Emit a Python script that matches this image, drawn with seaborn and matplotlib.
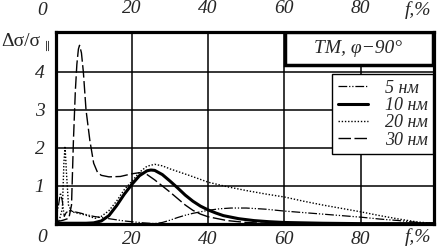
import numpy as np
import pandas as pd
import matplotlib
matplotlib.use("Agg")
import matplotlib.pyplot as plt
from matplotlib.patches import Rectangle
import seaborn as sns

sns.set_style("white")
plt.rcParams['font.family'] = ['Liberation Serif', 'DejaVu Serif']

### values (f in %, delta sigma / sigma)
f_5 = [0, 0.8, 1.3, 1.8, 2.3, 2.8, 3.5, 5, 6, 8, 10, 12, 14, 16, 18, 20, 23, 26, 28,
       30, 32, 34, 36, 38, 40, 43, 46, 50, 55, 60, 65, 70, 75, 80, 85, 90, 95, 99]
s_5 = [0.05, 0.5, 0.82, 0.6, 0.2, 0.3, 0.35, 0.32, 0.3, 0.25, 0.2, 0.17, 0.14, 0.11, 0.08, 0.06, 0.03, 0.01, 0.04,
       0.1, 0.17, 0.23, 0.28, 0.32, 0.36, 0.4, 0.42, 0.42, 0.39, 0.34, 0.3, 0.26, 0.22, 0.18, 0.13, 0.09, 0.04, 0.02]

f_10 = [0, 4, 8, 10, 12, 14, 16, 18, 20, 22, 24, 25, 26, 28, 30, 32, 34, 36, 38,
        40, 42, 44, 48, 52, 56, 60, 70, 80, 99]
s_10 = [0.02, 0.02, 0.02, 0.03, 0.08, 0.22, 0.48, 0.78, 1.04, 1.27, 1.4, 1.42, 1.41, 1.3, 1.13, 0.95, 0.76, 0.6, 0.47,
        0.37, 0.29, 0.22, 0.14, 0.09, 0.06, 0.04, 0.02, 0.01, 0.01]

f_20 = [0, 1, 1.8, 2.2, 2.5, 2.9, 3.4, 4.3, 6, 7.7, 10.4, 12, 14, 16, 18, 20, 22, 24, 26, 28,
        30, 35, 40, 45, 50, 55, 60, 65, 70, 75, 80, 85, 90, 95, 99]
s_20 = [0.05, 0.1, 0.4, 1.6, 2.05, 1.3, 0.5, 0.32, 0.28, 0.24, 0.15, 0.2, 0.35, 0.6, 0.9, 1.12, 1.36, 1.52, 1.57, 1.53,
        1.45, 1.28, 1.1, 0.98, 0.88, 0.79, 0.71, 0.6, 0.5, 0.41, 0.32, 0.22, 0.13, 0.05, 0.02]

f_30 = [0, 2, 3.5, 4.2, 4.7, 5.2, 5.6, 6.0, 6.3, 6.8, 7.3, 8, 9, 10, 11, 12, 14, 17, 20, 22, 24,
        26, 28, 30, 32, 34, 36, 38, 40, 45, 50, 55, 60, 80, 99]
s_30 = [0.05, 0.1, 0.15, 0.5, 2.2, 3.5, 4.2, 4.6, 4.7, 4.5, 4.0, 3.0, 2.2, 1.6, 1.36, 1.28, 1.24, 1.25, 1.32, 1.35, 1.3,
        1.16, 1.0, 0.84, 0.67, 0.5, 0.36, 0.26, 0.19, 0.09, 0.04, 0.02, 0.01, 0.005, 0.0]

labels = ['5 нм', '10 нм', '20 нм', '30 нм']
xticks = [20, 40, 60, 80]
yticks = [1, 2, 3, 4]

series = [(f_5, s_5, 0.9, (0, (7, 1.5, 1, 1.5, 1, 1.5))),
          (f_10, s_10, 2.2, '-'),
          (f_20, s_20, 1.0, (0, (1, 1.3))),
          (f_30, s_30, 1.0, (0, (9, 2.5)))]

fig = plt.figure(figsize=(4.37, 2.49), dpi=100)
ax = fig.add_axes([55.5/437, 25/249, 378.5/437, 192/249])

for (x, y, lw, ls), lab in zip(series, labels):
    df = pd.DataFrame({'f': x, 's': y})
    sns.lineplot(data=df, x='f', y='s', ax=ax, color='black', lw=lw,
                 linestyle=ls, label=lab, zorder=3)

ax.set_xlim(0, 99.2)
ax.set_ylim(0, 5.05)
for v in xticks:
    ax.axvline(v, color='black', lw=1.1, zorder=1)
for v in yticks:
    ax.axhline(v, color='black', lw=1.1, zorder=1)

for sp in ax.spines.values():
    sp.set_linewidth(2.3)
    sp.set_color('black')

ax.set_xlabel('')
ax.set_ylabel('')
ax.set_xticks(xticks)
ax.set_xticklabels([str(v) for v in xticks], fontsize=14, style='italic')
ax.set_yticks(yticks)
ax.set_yticklabels([str(v) for v in yticks], fontsize=14, style='italic')
ax.tick_params(axis='x', length=0, pad=5)
ax.tick_params(axis='y', length=0, pad=8)

top = ax.secondary_xaxis('top')
top.set_xticks(xticks)
top.set_xticklabels([str(v) for v in xticks], fontsize=14, style='italic')
top.tick_params(length=0, pad=11)
top.spines['top'].set_visible(False)

# corner labels
for yy in [237, 10]:
    fig.text(42/437, 1 - yy/249, '0', fontsize=14, style='italic', ha='center', va='center')
    fig.text(418/437, 1 - yy/249, 'f,%', fontsize=14, style='italic', ha='center', va='center')

fig.text(1/437, 1 - 42/249, 'Δσ/σ', fontsize=14, ha='left', va='center')
fig.text(45/437, 1 - 47/249, '∥', fontsize=8, style='italic', ha='left', va='center',
         family=['DejaVu Serif'])

# title box
ax.add_patch(Rectangle((0.606, 0.828), 0.391, 0.172, transform=ax.transAxes,
                       fc='white', ec='black', lw=2.5, zorder=5))
ax.text(0.80, 0.913, 'TM, φ−90°', transform=ax.transAxes, fontsize=14, style='italic',
        ha='center', va='center', zorder=6)

leg = ax.legend(loc='upper right', bbox_to_anchor=(0.997, 0.78),
                prop={'style': 'italic', 'size': 13}, frameon=True, fancybox=False,
                handlelength=1.7, labelspacing=0.02, borderpad=0.3, handletextpad=0.9,
                borderaxespad=0)
leg.get_frame().set_edgecolor('black')
leg.get_frame().set_linewidth(1.0)
leg.get_frame().set_alpha(1)
leg.set_zorder(6)

fig.savefig('out.png', dpi=100)
